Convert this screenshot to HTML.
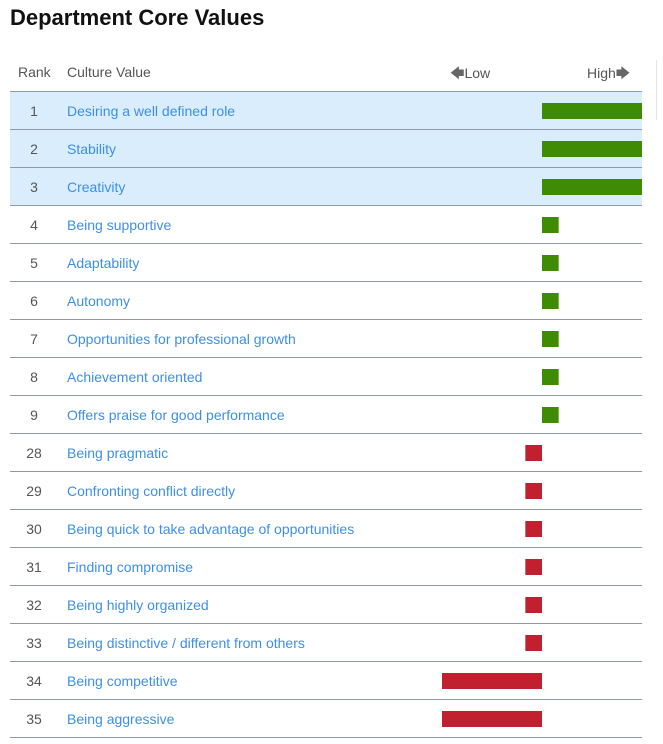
<!DOCTYPE html>
<html><head><meta charset="utf-8"><style>
body{margin:0;width:663px;height:744px;background:#fff;font-family:"Liberation Sans",sans-serif;position:relative;overflow:hidden}
.t{position:absolute;white-space:nowrap}
</style></head><body>
<div class="t" style="left:10px;top:5px;font-size:22px;font-weight:bold;color:#111">Department Core Values</div>
<div style="position:absolute;left:656px;top:60px;width:7px;height:60px;border-left:1px solid #e4e4e4"></div>
<div class="t" style="left:18px;top:64px;font-size:14px;color:#555">Rank</div>
<div class="t" style="left:67px;top:64px;font-size:14px;color:#555">Culture Value</div>
<div class="t" style="left:450px;top:63px;font-size:14px;color:#555"><span style="color:#666">&#x1F844;</span>Low</div>
<div class="t" style="left:587px;top:63px;font-size:14px;color:#555">High<span style="color:#666">&#x1F846;</span></div>
<div style="position:absolute;left:10px;top:91px;width:632px;height:1px;background:#8d9ba8"></div>
<svg id="chart" width="663" height="744" style="position:absolute;left:0;top:0"></svg>
<script>
const ranks=[1,2,3,4,5,6,7,8,9,28,29,30,31,32,33,34,35];
const labels=["Desiring a well defined role","Stability","Creativity","Being supportive","Adaptability","Autonomy","Opportunities for professional growth","Achievement oriented","Offers praise for good performance","Being pragmatic","Confronting conflict directly","Being quick to take advantage of opportunities","Finding compromise","Being highly organized","Being distinctive / different from others","Being competitive","Being aggressive"];
const values=[6,6,6,1,1,1,1,1,1,-1,-1,-1,-1,-1,-1,-6,-6];
const highlighted=[1,1,1,0,0,0,0,0,0,0,0,0,0,0,0,0,0];
const svg=document.getElementById('chart');
const NS='http://www.w3.org/2000/svg';
const top0=92,rowH=38,zeroX=542,unit=100/6;
const xPos=v=>zeroX+v*unit;
const yPos=i=>top0+i*rowH;
function mk(tag,a){const e=document.createElementNS(NS,tag);for(const k in a)e.setAttribute(k,a[k]);svg.appendChild(e);return e;}
ranks.forEach((r,i)=>{
  const y=yPos(i);
  if(highlighted[i]){const bg=mk('rect',{x:10,y:y,width:632,height:rowH,fill:'#d9edfc'});
    
    }
  const ln=mk('rect',{x:10,y:y+rowH-1,width:632,height:1,fill:'#8d9ba8'});
  
  
  const rt=mk('text',{x:34,y:y+24,'text-anchor':'middle','font-size':14,fill:'#555','font-family':'Liberation Sans, sans-serif'});
  rt.textContent=r;
  
  
  const lt=mk('text',{x:67,y:y+24,'font-size':14,fill:'#3d8fe6','font-family':'Liberation Sans, sans-serif'});
  lt.textContent=labels[i];
  
  
  const v=values[i];
  const x1=Math.min(xPos(0),xPos(v)),w=Math.abs(xPos(v)-xPos(0));
  const b=mk('rect',{x:x1,y:y+11,width:w,height:16,fill:v>=0?'#3e8c03':'#c1202f'});
  
  
});
</script>
</body></html>
